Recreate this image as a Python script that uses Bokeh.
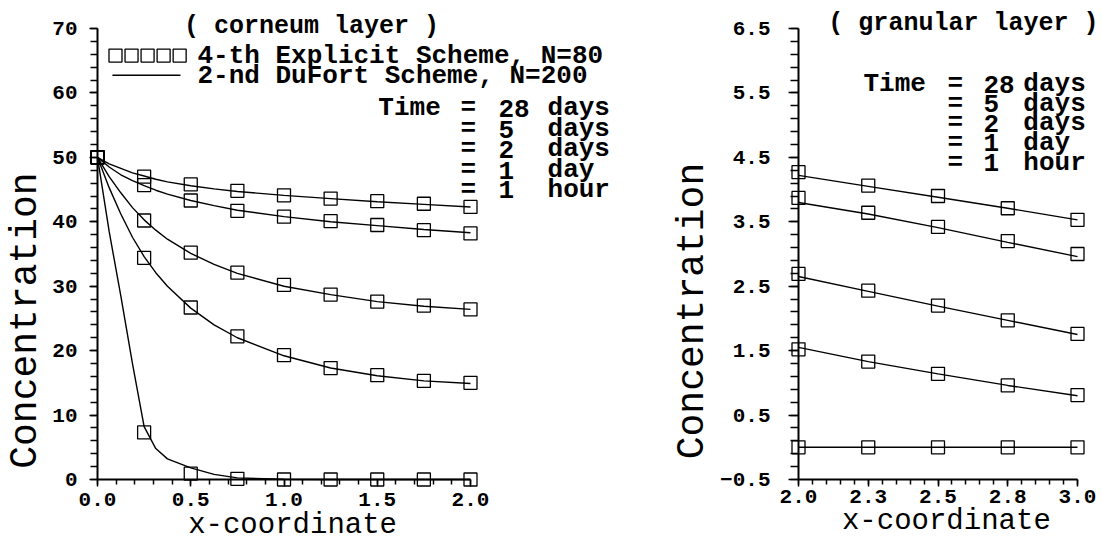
import math
from bokeh.plotting import figure
from bokeh.layouts import row
from bokeh.models import (SingleIntervalTicker, FixedTicker,
                          CustomJSTickFormatter, Range1d)
from bokeh.core.properties import value
from bokeh.embed import file_html
from bokeh.resources import INLINE

FONT = "Liberation Mono"

# ---------------- data: corneum layer (left) ----------------
corneum_x_pts = [0.0, 0.25, 0.5, 0.75, 1.0, 1.25, 1.5, 1.75, 2.0]
corneum_28d_pts = [50.0, 47.0, 45.8, 44.8, 44.1, 43.6, 43.2, 42.8, 42.3]
corneum_5d_pts = [50.0, 45.7, 43.3, 41.7, 40.8, 40.1, 39.5, 38.7, 38.2]
corneum_2d_pts = [50.0, 40.2, 35.2, 32.1, 30.2, 28.7, 27.6, 27.0, 26.4]
corneum_1d_pts = [50.0, 34.4, 26.7, 22.2, 19.3, 17.3, 16.2, 15.3, 15.0]
corneum_1h_pts = [50.0, 7.3, 0.9, 0.1, 0.0, 0.0, 0.0, 0.0, 0.0]

corneum_x_line = [0.0, 0.0625, 0.125, 0.1875, 0.25, 0.3125, 0.375, 0.5, 0.625,
                  0.75, 1.0, 1.25, 1.5, 1.75, 2.0]
corneum_28d_line = [50.0, 49.0, 48.3, 47.6, 47.1, 46.6, 46.2, 45.6, 45.1, 44.7,
                    44.1, 43.6, 43.1, 42.7, 42.3]
corneum_5d_line = [50.0, 48.5, 47.3, 46.4, 45.6, 44.9, 44.3, 43.3, 42.5, 41.8,
                   40.8, 40.0, 39.4, 38.8, 38.3]
corneum_2d_line = [50.0, 47.0, 44.5, 42.2, 40.3, 38.7, 37.3, 35.1, 33.4, 32.0,
                   30.0, 28.7, 27.6, 26.9, 26.4]
corneum_1d_line = [50.0, 45.3, 41.2, 37.6, 34.6, 32.1, 30.0, 26.6, 24.0, 22.0,
                   19.2, 17.3, 16.1, 15.3, 14.9]
corneum_1h_line = [50.0, 38.5, 28.5, 18.0, 8.2, 4.8, 3.2, 1.8, 0.8, 0.25,
                   0.03, 0.0, 0.0, 0.0, 0.0]

# ---------------- data: granular layer (right) ----------------
granular_x = [2.0, 2.25, 2.5, 2.75, 3.0]
granular_28d_pts = [4.27, 4.06, 3.90, 3.71, 3.53]
granular_5d_pts = [3.87, 3.64, 3.42, 3.20, 3.00]
granular_2d_pts = [2.69, 2.43, 2.20, 1.97, 1.76]
granular_1d_pts = [1.52, 1.33, 1.14, 0.96, 0.81]
granular_1h_pts = [0.0, 0.0, 0.0, 0.0, 0.0]

granular_28d_line = [4.22, 4.05, 3.88, 3.71, 3.53]
granular_5d_line = [3.80, 3.62, 3.41, 3.18, 2.96]
granular_2d_line = [2.65, 2.42, 2.19, 1.97, 1.75]
granular_1d_line = [1.55, 1.33, 1.14, 0.96, 0.80]
granular_1h_line = [0.0, 0.0, 0.0, 0.0, 0.0]

# ---------------- texts ----------------
time_values = ["28", "5", "2", "1", "1"]
time_units = ["days", "days", "days", "day", "hour"]
legend_texts = ["4-th Explicit Scheme, N=80", "2-nd DuFort  Scheme, N=200"]
left_title = "( corneum layer )"
right_title = "( granular layer )"
x_label = "x-coordinate"
y_label = "Concentration"

right_y_ticks = [-0.5, 0.5, 1.5, 2.5, 3.5, 4.5, 5.5, 6.5]
right_x_ticks = [2.0, 2.25, 2.5, 2.75, 3.0]


def style_axes(p, label_size="21px"):
    p.outline_line_color = None
    p.grid.visible = False
    p.background_fill_color = "white"
    p.border_fill_color = "white"
    for ax in (p.xaxis[0], p.yaxis[0]):
        ax.axis_line_width = 2
        ax.axis_line_color = "black"
        ax.major_tick_line_width = 1.5
        ax.minor_tick_line_width = 1.5
        ax.major_tick_line_color = "black"
        ax.minor_tick_line_color = "black"
        ax.major_tick_in = 0
        ax.minor_tick_in = 0
        ax.major_label_text_font = FONT
        ax.major_label_text_font_style = "bold"
        ax.major_label_text_font_size = label_size
        ax.major_label_text_color = "black"


def add_text(p, xs, ys, texts, size, style="normal", align="left",
             angle=0.0):
    p.text(x=xs, y=ys, text=texts, text_font=value(FONT),
           text_font_size=value(size), text_font_style=style,
           text_align=align, text_baseline="middle", angle=angle,
           text_color="black", level="overlay")


def squares(p, xs, ys):
    p.scatter(xs, ys, marker="square", size=13, fill_color=None,
              line_color="black", line_width=1.3, level="overlay")


def curve(p, xs, ys):
    p.line(xs, ys, line_color="black", line_width=1.4, level="overlay")


# ======================= left figure =======================
p1 = figure(width=640, height=543,
            x_range=Range1d(0.0, 2.0), y_range=Range1d(0.0, 70.0),
            output_backend="svg", toolbar_location=None,
            min_border_left=97, min_border_right=170,
            min_border_top=25, min_border_bottom=64)
style_axes(p1)
p1.yaxis.ticker = SingleIntervalTicker(interval=10, num_minor_ticks=5)
p1.xaxis.ticker = SingleIntervalTicker(interval=0.5, num_minor_ticks=5)
p1.yaxis.formatter = CustomJSTickFormatter(code="return tick.toFixed(0);")
p1.xaxis.formatter = CustomJSTickFormatter(code="return tick.toFixed(1);")
p1.yaxis.major_tick_out = 8
p1.yaxis.minor_tick_out = 7
p1.yaxis.major_label_standoff = 12
p1.xaxis.major_tick_out = 7
p1.xaxis.minor_tick_out = 5
p1.xaxis.major_label_standoff = 6

for ln in (corneum_28d_line, corneum_5d_line, corneum_2d_line,
           corneum_1d_line, corneum_1h_line):
    curve(p1, corneum_x_line, ln)
for pts in (corneum_28d_pts, corneum_5d_pts, corneum_2d_pts,
            corneum_1d_pts, corneum_1h_pts):
    squares(p1, corneum_x_pts, pts)

# legend (squares + line sample)
leg_sq_x = [0.0965 + 0.086 * i for i in range(5)]
squares(p1, leg_sq_x, [65.8] * 5)
curve(p1, [0.08, 0.445], [62.75, 62.75])
add_text(p1, [0.536, 0.536], [65.76, 62.68], legend_texts, "26px", "bold")

add_text(p1, [1.147], [70.31], [left_title], "25px", "bold", align="center")

# time block
left_rows_y = [57.59, 54.35, 51.27, 48.03, 44.95]
add_text(p1, [1.506], [left_rows_y[0]], ["Time"], "26px", "bold")
add_text(p1, [1.946] * 5, left_rows_y, ["="] * 5, "26px", "bold")
add_text(p1, [2.150] * 5, left_rows_y, time_values, "26px", "bold")
add_text(p1, [2.413] * 5, left_rows_y, time_units, "26px", "bold")

add_text(p1, [-0.386], [24.67], [y_label], "38px", align="center",
         angle=math.pi / 2)
add_text(p1, [1.046], [-7.17], [x_label], "29px", align="center")

# ======================= right figure =======================
p2 = figure(width=460, height=543,
            x_range=Range1d(2.0, 3.0), y_range=Range1d(-0.5, 6.5),
            output_backend="svg", toolbar_location=None,
            min_border_left=158, min_border_right=23,
            min_border_top=28, min_border_bottom=60)
style_axes(p2)
p2.yaxis.ticker = FixedTicker(
    ticks=right_y_ticks,
    minor_ticks=[round(-0.5 + 0.2 * i, 2) for i in range(36)])
p2.xaxis.ticker = FixedTicker(
    ticks=right_x_ticks,
    minor_ticks=[round(2.0 + 0.05 * i, 2) for i in range(21)])
p2.yaxis.formatter = CustomJSTickFormatter(
    code="return tick.toFixed(1).replace('-', '\\u2212');")
p2.xaxis.formatter = CustomJSTickFormatter(code="return tick.toFixed(1);")
p2.yaxis.major_tick_out = 10
p2.yaxis.minor_tick_out = 8
p2.yaxis.major_label_standoff = 18
p2.xaxis.major_tick_out = 7
p2.xaxis.minor_tick_out = 5
p2.xaxis.major_label_standoff = 3

for ln in (granular_28d_line, granular_5d_line, granular_2d_line,
           granular_1d_line, granular_1h_line):
    curve(p2, granular_x, ln)
for pts in (granular_28d_pts, granular_5d_pts, granular_2d_pts,
            granular_1d_pts, granular_1h_pts):
    squares(p2, granular_x, pts)

add_text(p2, [2.591], [6.577], [right_title], "25px", "bold", align="center")

right_rows_y = [5.638, 5.331, 5.031, 4.723, 4.415]
add_text(p2, [2.233], [right_rows_y[0]], ["Time"], "26px", "bold")
add_text(p2, [2.534] * 5, right_rows_y, ["="] * 5, "26px", "bold")
add_text(p2, [2.663] * 5, right_rows_y, time_values, "26px", "bold")
add_text(p2, [2.806] * 5, right_rows_y, time_units, "26px", "bold")

add_text(p2, [1.620], [2.115], [y_label], "38px", align="center",
         angle=math.pi / 2)
add_text(p2, [2.530], [-1.146], [x_label], "29px", align="center")

layout = row(p1, p2)
open("out.html", "w").write(file_html(layout, INLINE))
